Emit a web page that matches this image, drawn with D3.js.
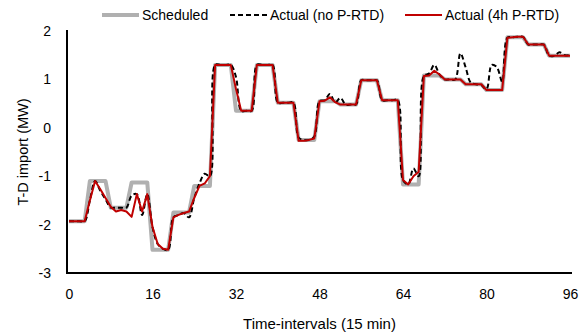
<!DOCTYPE html>
<html>
<head>
<meta charset="utf-8">
<script src="https://cdn.jsdelivr.net/npm/d3@7"></script>
<style>
  body { margin: 0; background: #fff; }
  svg { display: block; font-family: "Liberation Sans", Arial, sans-serif; }
</style>
</head>
<body>
<svg id="chart"></svg>
<script>
// 15-min intervals over one day
const intervals = d3.range(0, 97);

const scheduled = [
  -1.93, -1.93, -1.93, -1.93, -1.10, -1.10, -1.10, -1.10,
  -1.65, -1.65, -1.65, -1.65, -1.13, -1.13, -1.13, -1.13,
  -2.52, -2.52, -2.52, -2.52, -1.75, -1.75, -1.75, -1.75,
  -1.20, -1.20, -1.20, -1.20, 1.30, 1.30, 1.30, 1.30,
  0.35, 0.35, 0.35, 0.35, 1.30, 1.30, 1.30, 1.30,
  0.52, 0.52, 0.52, 0.52, -0.25, -0.25, -0.25, -0.25,
  0.55, 0.55, 0.55, 0.55, 0.48, 0.48, 0.48, 0.48,
  0.98, 0.98, 0.98, 0.98, 0.57, 0.57, 0.57, 0.57,
  -1.17, -1.17, -1.17, -1.17, 1.08, 1.08, 1.08, 1.08,
  1.00, 1.00, 1.00, 1.00, 0.90, 0.90, 0.90, 0.90,
  0.78, 0.78, 0.78, 0.78, 1.87, 1.87, 1.87, 1.87,
  1.72, 1.72, 1.72, 1.72, 1.49, 1.49, 1.49, 1.49, 1.49
];

const actualNoPRTD = [
  -1.93, -1.93, -1.93, -1.93, -1.50, -1.10, -1.30, -1.48,
  -1.65, -1.65, -1.65, -1.65, -1.40, -1.37, -1.80, -1.37,
  -2.05, -2.40, -2.50, -2.52, -1.85, -1.80, -1.76, -1.85,
  -1.45, -1.15, -0.95, -1.00, 1.30, 1.30, 1.30, 1.30,
  1.05, 0.35, 0.35, 0.35, 1.30, 1.30, 1.30, 1.30,
  0.52, 0.52, 0.52, 0.52, -0.20, -0.25, -0.25, -0.18,
  0.55, 0.57, 0.70, 0.52, 0.62, 0.48, 0.48, 0.48,
  0.98, 0.98, 0.98, 0.98, 0.57, 0.57, 0.57, 0.57,
  -1.08, -1.17, -0.84, -1.00, 1.07, 1.12, 1.30, 1.10,
  1.00, 1.00, 1.00, 1.54, 1.25, 0.93, 0.90, 0.88,
  0.80, 1.30, 1.25, 0.95, 1.86, 1.87, 1.88, 1.88,
  1.72, 1.72, 1.72, 1.72, 1.49, 1.49, 1.56, 1.50, 1.50
];

const actual4h = [
  -1.93, -1.93, -1.93, -1.93, -1.50, -1.10, -1.27, -1.45,
  -1.63, -1.73, -1.70, -1.73, -1.84, -1.37, -1.73, -1.37,
  -2.05, -2.40, -2.50, -2.52, -1.85, -1.80, -1.76, -1.73,
  -1.45, -1.20, -1.15, -1.00, 1.30, 1.30, 1.30, 1.30,
  0.80, 0.35, 0.35, 0.35, 1.30, 1.30, 1.30, 1.30,
  0.52, 0.52, 0.52, 0.52, -0.27, -0.27, -0.25, -0.22,
  0.55, 0.56, 0.63, 0.53, 0.48, 0.48, 0.48, 0.48,
  0.98, 0.98, 0.98, 0.98, 0.57, 0.57, 0.57, 0.57,
  -1.08, -1.17, -1.00, -0.91, 1.07, 1.08, 1.18, 1.10,
  1.00, 1.00, 1.00, 1.00, 0.90, 0.90, 0.90, 0.90,
  0.78, 0.78, 0.78, 0.78, 1.86, 1.87, 1.88, 1.88,
  1.72, 1.72, 1.72, 1.72, 1.49, 1.49, 1.49, 1.49, 1.49
];

const xTicks = [0, 16, 32, 48, 64, 80, 96];
const yTicks = [-3, -2, -1, 0, 1, 2];
const legendNames = ['Scheduled', 'Actual (no P-RTD)', 'Actual (4h P-RTD)'];

const width = 587, height = 335;
const margin = { top: 31, right: 17, bottom: 62, left: 69 };

const svg = d3.select('#chart')
  .attr('width', width)
  .attr('height', height);

const x = d3.scaleLinear()
  .domain([0, 96])
  .range([margin.left, width - margin.right]);

const y = d3.scaleLinear()
  .domain([-3, 2])
  .range([height - margin.bottom, margin.top]);

// plain number labels with ascii hyphen, like Excel
const fmt = d => String(d);

// axes: plain lines, no tick marks
const xAxis = svg.append('g')
  .attr('transform', `translate(0, ${y(-3)})`)
  .call(d3.axisBottom(x).tickValues(xTicks).tickFormat(fmt).tickSize(0).tickPadding(16));
xAxis.select('.domain')
  .attr('d', `M${x(0) - 2},0H${x(96) + 2}`)
  .attr('stroke', '#000').attr('stroke-width', 2);

const yAxis = svg.append('g')
  .attr('transform', `translate(${x(0) - 2}, 0)`)
  .call(d3.axisLeft(y).tickValues(yTicks).tickFormat(fmt).tickSize(0).tickPadding(16));
yAxis.select('.domain')
  .attr('d', `M0,${y(2) - 1}V${y(-3) + 1}`)
  .attr('stroke', '#000').attr('stroke-width', 2);

svg.selectAll('.tick text')
  .attr('font-size', 14)
  .attr('font-family', '"Liberation Sans", Arial, sans-serif')
  .attr('fill', '#000');

// axis titles
svg.append('text')
  .attr('x', (x(0) + x(96)) / 2)
  .attr('y', 329)
  .attr('text-anchor', 'middle')
  .attr('font-size', 15)
  .text('Time-intervals (15 min)');

svg.append('text')
  .attr('transform', `translate(23, ${(y(2) + y(-3)) / 2}) rotate(-90)`)
  .attr('text-anchor', 'middle')
  .attr('dominant-baseline', 'central')
  .attr('font-size', 14.5)
  .text('T-D import (MW)');

// series
const straight = d3.line()
  .x((d, i) => x(intervals[i]))
  .y(d => y(d));

const smooth = d3.line()
  .x((d, i) => x(intervals[i]))
  .y(d => y(d))
  .curve(d3.curveCatmullRom.alpha(0.5));

svg.append('path')
  .datum(scheduled)
  .attr('d', straight)
  .attr('fill', 'none')
  .attr('stroke', '#b0b0b0')
  .attr('stroke-width', 4)
  .attr('stroke-linejoin', 'round');

svg.append('path')
  .datum(actualNoPRTD)
  .attr('d', smooth)
  .attr('fill', 'none')
  .attr('stroke', '#000')
  .attr('stroke-width', 2)
  .attr('stroke-dasharray', '5,3');

svg.append('path')
  .datum(actual4h)
  .attr('d', straight)
  .attr('fill', 'none')
  .attr('stroke', '#c00000')
  .attr('stroke-width', 2)
  .attr('stroke-linejoin', 'round');

// legend
const legendItems = [
  { name: legendNames[0], x: 102, stroke: '#b0b0b0', w: 4, dash: null },
  { name: legendNames[1], x: 230, stroke: '#000', w: 2, dash: '5,3' },
  { name: legendNames[2], x: 405, stroke: '#c00000', w: 2, dash: null }
];

const legend = svg.selectAll('.legend')
  .data(legendItems)
  .enter()
  .append('g')
  .attr('class', 'legend')
  .attr('transform', d => `translate(${d.x}, 15)`);

legend.append('line')
  .attr('x1', 0).attr('x2', 37)
  .attr('stroke', d => d.stroke)
  .attr('stroke-width', d => d.w)
  .attr('stroke-dasharray', d => d.dash);

legend.append('text')
  .attr('x', 40)
  .attr('dy', '0.35em')
  .attr('font-size', 14)
  .text(d => d.name);
</script>
</body>
</html>
